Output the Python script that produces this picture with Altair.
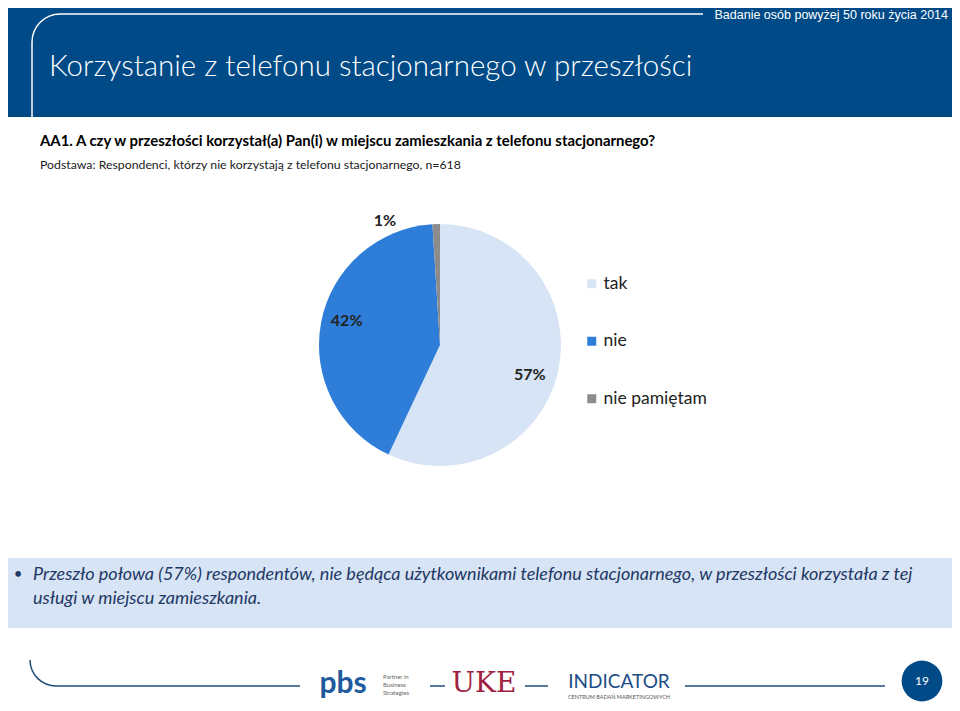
import altair as alt
import pandas as pd
import math

# ---- data ----
categories = ["tak", "nie", "nie pamiętam"]
values = [57, 42, 1]
labels = ["57%", "42%", "1%"]
order = [1, 2, 3]
colors = ["#D6E4F5", "#2E7DD8", "#8C8C8C"]

title_text = "Korzystanie z telefonu stacjonarnego w przeszłości"
header_note = "Badanie osób powyżej 50 roku życia 2014"
question = "AA1. A czy w przeszłości korzystał(a) Pan(i) w miejscu zamieszkania z telefonu stacjonarnego?"
base_note = "Podstawa: Respondenci, którzy nie korzystają z telefonu stacjonarnego, n=618"
bullet_lines = [
    "Przeszło połowa (57%) respondentów, nie będąca użytkownikami telefonu stacjonarnego, w przeszłości korzystała z tej",
    "usługi w miejscu zamieszkania.",
]
page_number = "19"

df = pd.DataFrame({"kategoria": categories, "wartosc": values, "etykieta": labels, "kolejnosc": order})
dummy = pd.DataFrame({"a": [0]})

OFF = 8
def X(v):
    return alt.value(v - OFF)
def Y(v):
    return alt.value(v - OFF)

NAVY = "#004A87"
FONT = "Lato"

def rect(x1, y1, x2, y2, color, **kw):
    return alt.Chart(dummy).mark_rect(color=color, **kw).encode(x=X(x1), x2=X(x2), y=Y(y1), y2=Y(y2))

def text(x, y, s, **kw):
    return alt.Chart(dummy).mark_text(text=s, **kw).encode(x=X(x), y=Y(y))

def rule(x1, y1, x2, y2, color, w):
    return alt.Chart(dummy).mark_rule(color=color, strokeWidth=w).encode(x=X(x1), x2=X(x2), y=Y(y1), y2=Y(y2))

def quarter(cx, cy, r, t1, t2, color, w):
    return alt.Chart(dummy).mark_arc(color=color, innerRadius=r - w / 2, outerRadius=r + w / 2).encode(
        x=X(cx), y=Y(cy), theta=alt.value(t1), theta2=alt.value(t2))

layers = []
# header band
layers.append(rect(4, 2, 957, 117, NAVY))
layers.append(rule(32, 117, 32, 42, "white", 1.5))
layers.append(quarter(60, 42, 28, 3 * math.pi / 2, 2 * math.pi, "white", 1.5))
layers.append(rule(60, 14, 703, 14, "white", 1.5))
layers.append(text(948, 15, header_note, font="Liberation Sans", fontSize=12.5, color="white", align="right", baseline="middle"))
layers.append(text(49, 67, title_text, font=FONT, fontWeight=300, fontSize=29.5, color="white", align="left", baseline="middle"))

# question texts
layers.append(text(40, 142, question, font=FONT, fontWeight="bold", fontSize=14.9, color="black", align="left", baseline="middle"))
layers.append(text(40, 165, base_note, font=FONT, fontSize=12.3, color="#222222", align="left", baseline="middle"))

# pie
CX, CY, R = 440, 345, 121
pie = alt.Chart(df).mark_arc(outerRadius=R).encode(
    theta=alt.Theta("wartosc:Q", stack=True),
    order=alt.Order("kolejnosc:Q"),
    color=alt.Color("kategoria:N", scale=alt.Scale(domain=categories, range=colors),
                    legend=alt.Legend(title=None, orient="none", legendX=583 - OFF, legendY=275 - OFF,
                                      symbolType="square", symbolSize=81, symbolStrokeWidth=0,
                                      labelFont=FONT, labelFontSize=17.5, labelColor="#222222",
                                      rowPadding=38.5, labelOffset=3)),
    x=X(CX), y=Y(CY),
)
layers.append(pie)

lab_base = alt.Chart(df).transform_window(
    cum="sum(wartosc)", sort=[alt.SortField("kolejnosc")]
).transform_calculate(mid="datum.cum - datum.wartosc / 2")
theta_enc = alt.Theta("mid:Q", scale=alt.Scale(domain=[0, sum(values)], range=[0, 2 * math.pi]))
label_style = dict(font=FONT, fontWeight="bold", fontSize=16, color="#222222")
label_pos = {"tak": (94, -2, 9), "nie": (94, -1, -6), "nie pamiętam": (130, -51, 6)}
for cat, (rad, ddx, ddy) in label_pos.items():
    layers.append(lab_base.transform_filter(alt.datum.kategoria == cat).mark_text(
        radius=rad, dx=ddx, dy=ddy, **label_style
    ).encode(theta=theta_enc, text="etykieta:N", x=X(CX), y=Y(CY)))

# summary box
layers.append(rect(4, 558, 957, 628, "#D6E4F5"))
layers.append(text(18, 574, "•", font=FONT, fontSize=15, color="#1F3864", align="center", baseline="middle"))
layers.append(text(33, 575, bullet_lines[0], font=FONT, fontStyle="italic", fontSize=18, color="#1F3864", align="left", baseline="middle"))
layers.append(text(33, 599, bullet_lines[1], font=FONT, fontStyle="italic", fontSize=18, color="#1F3864", align="left", baseline="middle"))

# footer
FC = "#1F4E79"
layers.append(quarter(56, 660, 26, math.pi, 3 * math.pi / 2, FC, 1.5))
layers.append(rule(56, 686, 300, 686, FC, 1.5))
layers.append(rule(430, 686, 445, 686, FC, 1.5))
layers.append(rule(525, 686, 548, 686, FC, 1.5))
layers.append(rule(685, 686, 885, 686, FC, 1.5))
layers.append(text(343, 684, "pbs", font=FONT, fontWeight="bold", fontSize=30, color="#1E5A9C", align="center", baseline="middle"))
layers.append(text(383, 677, "Partner in", font=FONT, fontSize=6, color="#666666", align="left", baseline="middle"))
layers.append(text(383, 685, "Business", font=FONT, fontSize=6, color="#666666", align="left", baseline="middle"))
layers.append(text(383, 693, "Strategies", font=FONT, fontSize=6, color="#666666", align="left", baseline="middle"))
layers.append(text(484, 684, "UKE", font="DejaVu Serif", fontSize=28, color="#A02040", align="center", baseline="middle"))
layers.append(text(619, 682, "INDICATOR", font=FONT, fontSize=19, color="#1E4E86", align="center", baseline="middle"))
layers.append(text(619, 697, "CENTRUM BADAŃ MARKETINGOWYCH", font=FONT, fontSize=5.5, color="#555555", align="center", baseline="middle"))
layers.append(alt.Chart(dummy).mark_circle(size=math.pi * 23 * 23, color=NAVY, opacity=1).encode(x=X(922), y=Y(681)))
layers.append(text(922, 681, page_number, font=FONT, fontSize=12, color="white", align="center", baseline="middle"))

chart = alt.layer(*layers).properties(
    width=944, height=695, padding=0, autosize=alt.AutoSizeParams(type="none"),
    background="white",
).configure_view(stroke=None)

chart.save("out.html", embed_options={"renderer": "svg", "actions": False})
